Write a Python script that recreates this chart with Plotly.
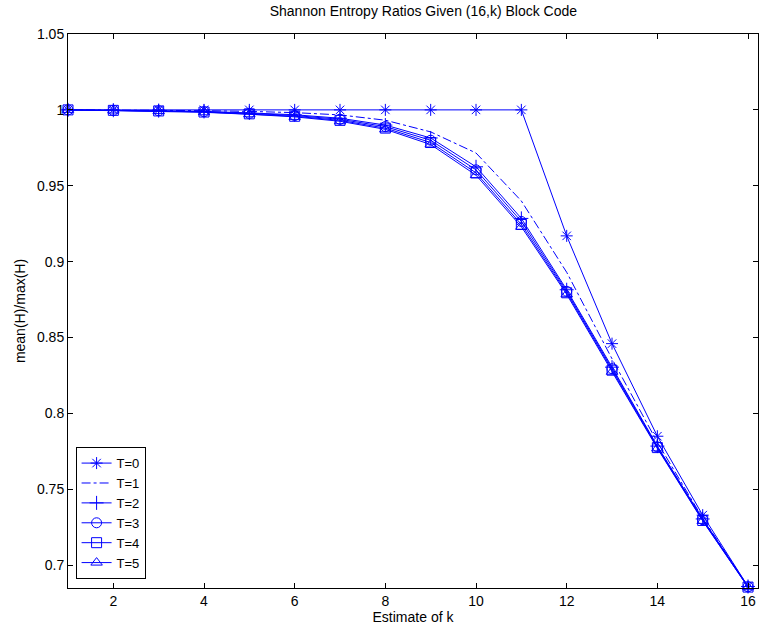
import plotly.graph_objects as go

k_values = list(range(1, 17))
T0 = [1, 1, 1, 1, 1, 1, 1, 1, 1, 1, 1, 0.917, 0.846, 0.785, 0.733, 0.686]
T1 = [1.0, 0.9999, 0.9998, 0.9995, 0.999, 0.9982, 0.9967, 0.9932, 0.9855, 0.9716, 0.940, 0.893, 0.836, 0.781, 0.731, 0.686]
T2 = [1, 0.9998, 0.9995, 0.999, 0.998, 0.9968, 0.9945, 0.9900, 0.9815, 0.9625, 0.9285, 0.8815, 0.8305, 0.7785, 0.7305, 0.686]
T3 = [1, 0.9997, 0.9994, 0.9988, 0.9977, 0.9963, 0.9938, 0.9890, 0.9800, 0.9605, 0.9265, 0.8805, 0.8295, 0.7780, 0.7300, 0.6858]
T4 = [1, 0.9997, 0.9993, 0.9986, 0.9974, 0.9958, 0.9931, 0.9880, 0.9785, 0.9585, 0.9245, 0.8795, 0.8285, 0.7775, 0.7295, 0.6856]
T5 = [1, 0.9996, 0.9992, 0.9984, 0.9971, 0.9954, 0.9925, 0.9872, 0.9772, 0.9570, 0.9230, 0.8785, 0.8275, 0.7770, 0.7292, 0.6855]

series_names = ["T=0", "T=1", "T=2", "T=3", "T=4", "T=5"]
series_values = [T0, T1, T2, T3, T4, T5]
markers = ["asterisk-open", None, "cross-thin-open", "circle-open", "square-open", "triangle-up-open"]
dashes = ["solid", "dashdot", "solid", "solid", "solid", "solid"]

x_ticks = [2, 4, 6, 8, 10, 12, 14, 16]
y_ticks = [0.7, 0.75, 0.8, 0.85, 0.9, 0.95, 1.0, 1.05]
y_tick_labels = ["0.7", "0.75", "0.8", "0.85", "0.9", "0.95", "1", "1.05"]

BLUE = "#0000ff"
FONT = "Liberation Sans, Arial, Helvetica, sans-serif"

fig = go.Figure()
for name, vals, m, d in zip(series_names, series_values, markers, dashes):
    if m is None:
        fig.add_trace(go.Scatter(
            x=k_values, y=vals, name=name, mode="lines",
            line=dict(color=BLUE, width=1, dash=d), cliponaxis=False))
    else:
        fig.add_trace(go.Scatter(
            x=k_values, y=vals, name=name, mode="lines+markers",
            line=dict(color=BLUE, width=1, dash=d),
            marker=dict(symbol=m, size=10, color=BLUE, line=dict(width=1, color=BLUE)),
            cliponaxis=False))

axis_common = dict(
    showline=True, linecolor="black", linewidth=1, mirror="ticks",
    ticks="inside", ticklen=5, tickcolor="black", showgrid=False, zeroline=False,
    automargin=False,
    tickfont=dict(family=FONT, size=14, color="black"),
)

fig.update_layout(
    width=767, height=635,
    paper_bgcolor="white", plot_bgcolor="white",
    margin=dict(l=68, r=9, t=34, b=47),
    title=dict(text="Shannon Entropy Ratios Given (16,k) Block Code",
               x=0.552, xanchor="center", y=0.99, yanchor="top",
               font=dict(family=FONT, size=14, color="black")),
    xaxis=dict(range=[1, 16.22], tickvals=x_ticks,
               title=dict(text="Estimate of k", standoff=3,
                          font=dict(family=FONT, size=14, color="black")),
               **axis_common),
    yaxis=dict(range=[0.685, 1.05], tickvals=y_ticks, ticktext=y_tick_labels,
               title=dict(text="mean(H)/max(H)", standoff=8,
                          font=dict(family=FONT, size=14, color="black")),
               **axis_common),
    legend=dict(x=0.011, y=0.016, xanchor="left", yanchor="bottom",
                bgcolor="white", bordercolor="black", borderwidth=1,
                font=dict(family=FONT, size=13, color="black"),
                tracegroupgap=0, itemwidth=30),
    showlegend=True,
)

fig.write_html("out.html", config={"displayModeBar": False},
               post_script="document.body.style.margin='0px';")
